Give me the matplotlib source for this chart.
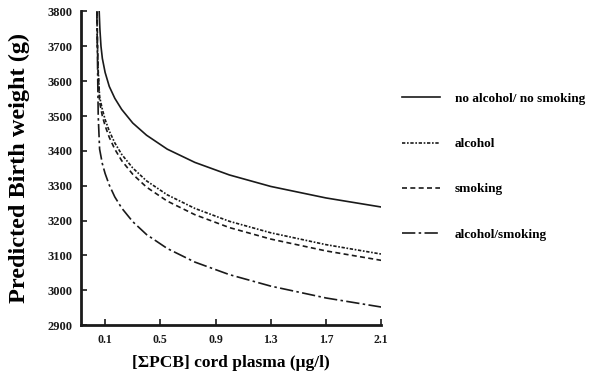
import matplotlib
matplotlib.use("Agg")
import matplotlib.pyplot as plt

# Predicted birth weight (g) against summed PCB in cord plasma (ug/l)
x_none = [0.057, 0.062, 0.07, 0.08, 0.1, 0.13, 0.17, 0.22, 0.3, 0.4, 0.55, 0.75, 1.0, 1.3, 1.7, 2.1]
y_none = [3800, 3750, 3700, 3665, 3625, 3585, 3551, 3519, 3480, 3445, 3405, 3367, 3331, 3298, 3265, 3239]

x_alcohol = [0.04, 0.044, 0.05, 0.06, 0.08, 0.1, 0.13, 0.17, 0.22, 0.3, 0.4, 0.55, 0.75, 1.0, 1.3, 1.7, 2.1]
y_alcohol = [3800, 3700, 3630, 3555, 3519, 3490, 3457, 3423, 3390, 3351, 3314, 3274, 3235, 3198, 3165, 3131, 3104]

x_smoking = [0.042, 0.045, 0.05, 0.06, 0.08, 0.1, 0.13, 0.17, 0.22, 0.3, 0.4, 0.55, 0.75, 1.0, 1.3, 1.7, 2.1]
y_smoking = [3800, 3700, 3620, 3540, 3500, 3472, 3439, 3405, 3372, 3333, 3296, 3256, 3217, 3180, 3147, 3113, 3086]

x_both = [0.04, 0.045, 0.05, 0.06, 0.08, 0.1, 0.13, 0.17, 0.22, 0.3, 0.4, 0.55, 0.75, 1.0, 1.3, 1.7, 2.1]
y_both = [3800, 3650, 3500, 3405, 3363, 3335, 3302, 3268, 3236, 3197, 3160, 3120, 3081, 3045, 3012, 2978, 2952]

labels = ["no alcohol/ no smoking", "alcohol", "smoking", "alcohol/smoking"]
x_ticks = [0.1, 0.5, 0.9, 1.3, 1.7, 2.1]
y_ticks = [2900, 3000, 3100, 3200, 3300, 3400, 3500, 3600, 3700, 3800]

serif = ["Liberation Serif", "DejaVu Serif"]

fig = plt.figure(figsize=(5.92, 3.83), dpi=100)
ax = fig.add_axes([0.137, 0.151, 0.507, 0.819])

ink = "#1a1a1a"
ax.plot(x_none, y_none, color=ink, lw=1.2, linestyle="-", label=labels[0])
ax.plot(x_alcohol, y_alcohol, color=ink, lw=1.2, linestyle=(0, (2, 1, 1, 1)), label=labels[1])
ax.plot(x_smoking, y_smoking, color=ink, lw=1.2, linestyle=(0, (3, 2)), label=labels[2])
ax.plot(x_both, y_both, color=ink, lw=1.2, linestyle=(0, (8, 2, 1.5, 2)), label=labels[3])

ax.set_xlim(-0.074, 2.1)
ax.set_ylim(2900, 3800)
ax.set_xticks(x_ticks)
ax.set_xticklabels([f"{v:.1f}" for v in x_ticks], fontfamily=serif, fontweight="bold", fontsize=8.5)
ax.set_yticks(y_ticks)
ax.set_yticklabels([str(v) for v in y_ticks], fontfamily=serif, fontweight="bold", fontsize=9)
ax.tick_params(direction="in", length=4, width=1.2, colors=ink, pad=6)

for side in ("top", "right"):
    ax.spines[side].set_visible(False)
for side in ("left", "bottom"):
    ax.spines[side].set_linewidth(2)
    ax.spines[side].set_color(ink)

ax.set_ylabel("Predicted Birth weight (g)", fontfamily=serif, fontweight="bold",
              fontsize=17.5, labelpad=13)
ax.set_xlabel("[\u03a3PCB] cord plasma (\u03bcg/l)", fontfamily=serif, fontweight="bold",
              fontsize=12.5, labelpad=7)

leg = ax.legend(loc="upper left", bbox_to_anchor=(0.679, 0.758), bbox_transform=fig.transFigure,
                frameon=False, borderpad=0, borderaxespad=0, labelspacing=2.5,
                handlelength=2.9, handletextpad=1.1,
                prop={"family": serif, "weight": "bold", "size": 9.5})

fig.savefig("out.png", dpi=100)
